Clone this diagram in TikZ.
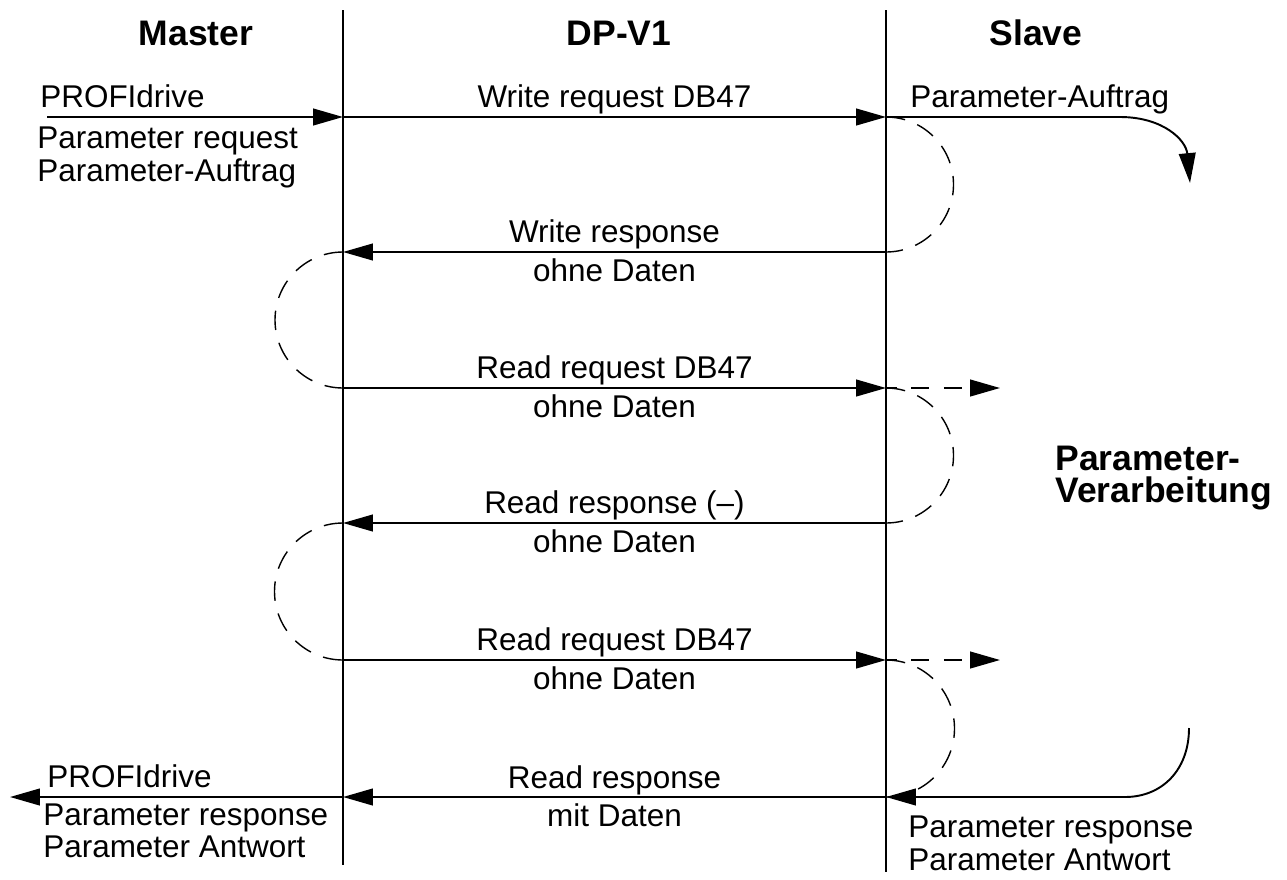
\documentclass[tikz,border=0pt]{standalone}
\usepackage{fontspec}
\setmainfont{Liberation Sans}
\usetikzlibrary{arrows.meta}
\begin{document}
\begin{tikzpicture}[x=0.02cm,y=-0.02cm,
  lbl/.style={inner sep=0pt, font=\fontsize{17.9}{20}\selectfont},
  head/.style={inner sep=0pt, font=\fontsize{20.2}{24}\selectfont\bfseries},
  life/.style={line width=1.4pt},
  msg/.style={line width=1.1pt, -{Triangle[length=17pt,width=9.5pt]}},
  loopc/.style={line width=0.8pt, dash pattern=on 11pt off 7.5pt},
  pend/.style={line width=1.1pt, dash pattern=on 10pt off 8.5pt, dash phase=4pt, -{Triangle[length=17pt,width=9.5pt]}}]
\useasboundingbox (0,0) rectangle (1287,879);

% headings
\node[head, anchor=base] (hM) at (196,45) {Master};
\node[head, anchor=base] (hD) at (619,45) {DP-V1};
\node[head, anchor=base] (hS) at (1036,45) {Slave};

% lifelines
\coordinate (mT) at (343,10); \coordinate (mB) at (343,865);
\coordinate (sT) at (886,10); \coordinate (sB) at (886,872);
\draw[life] (mT) -- (mB);
\draw[life] (sT) -- (sB);

% message end points
\foreach \i/\y in {1/117,2/252,3/388,4/523,5/660,6/797}{
  \coordinate (m\i) at (343,\y);
  \coordinate (s\i) at (886,\y);
}
\coordinate (inL) at (47,117);
\coordinate (outL) at (10,797);
\coordinate (c1a) at (1120,117);
\coordinate (c1b) at (1190,183);
\coordinate (c6a) at (1189,728);
\coordinate (c6b) at (1125,797);
\coordinate (p3) at (1000,388);
\coordinate (p5) at (1000,660);

% messages
\draw[msg] (inL) -- (m1);
\draw[msg] (m1) -- (s1);
\draw[msg] (s2) -- (m2);
\draw[msg] (m3) -- (s3);
\draw[msg] (s4) -- (m4);
\draw[msg] (m5) -- (s5);
\draw[msg] (s6) -- (m6);
\draw[msg] (m6) -- (outL);

% slave side processing
\draw[msg] (s1) -- (c1a) .. controls (1163,117) and (1186,140) .. (c1b);
\draw[msg] (c6a) .. controls (1189,770) and (1162,797) .. (c6b) -- (s6);
\draw[pend] (s3) -- (p3);
\draw[pend] (s5) -- (p5);

% waiting loops
\draw[loopc] (s1) arc[start angle=-90, end angle=90, radius=67.5];
\draw[loopc] (s3) arc[start angle=-90, end angle=90, radius=67.5];
\draw[loopc] (s5) arc[start angle=-90, end angle=90, radius=68.5];
\draw[loopc] (m2) arc[start angle=-90, end angle=-270, radius=68];
\draw[loopc] (m4) arc[start angle=-90, end angle=-270, radius=68.5];

% labels on messages
\node[lbl, anchor=base] (t1) at (614.5,107) {Write request DB47};
\node[lbl, anchor=base] (t2a) at (614.5,242) {Write response};
\node[lbl, anchor=base] (t2b) at (614.5,281) {ohne Daten};
\node[lbl, anchor=base] (t3a) at (614.5,378) {Read request DB47};
\node[lbl, anchor=base] (t3b) at (614.5,417) {ohne Daten};
\node[lbl, anchor=base] (t4a) at (614.5,513) {Read response (–)};
\node[lbl, anchor=base] (t4b) at (614.5,552) {ohne Daten};
\node[lbl, anchor=base] (t5a) at (614.5,650) {Read request DB47};
\node[lbl, anchor=base] (t5b) at (614.5,689) {ohne Daten};
\node[lbl, anchor=base] (t6a) at (614.5,788) {Read response};
\node[lbl, anchor=base] (t6b) at (614.5,826) {mit Daten};

% master side labels
\node[lbl, anchor=base west] (l1) at (40,107) {PROFIdrive};
\node[lbl, anchor=base west] (l2) at (37,148) {Parameter request};
\node[lbl, anchor=base west] (l3) at (37,181) {Parameter-Auftrag};
\node[lbl, anchor=base west] (l4) at (47,787) {PROFIdrive};
\node[lbl, anchor=base west] (l5) at (43,825) {Parameter response};
\node[lbl, anchor=base west] (l6) at (43,857) {Parameter Antwort};

% slave side labels
\node[lbl, anchor=base west] (r1) at (910,107) {Parameter-Auftrag};
\node[lbl, anchor=base west] (r2) at (908,837) {Parameter response};
\node[lbl, anchor=base west] (r3) at (908,870) {Parameter Antwort};
\node[head, anchor=base west, align=left] (pv1) at (1055,470) {Parameter-};
\node[head, anchor=base west, align=left] (pv2) at (1055,502) {Verarbeitung};
\end{tikzpicture}
\end{document}
